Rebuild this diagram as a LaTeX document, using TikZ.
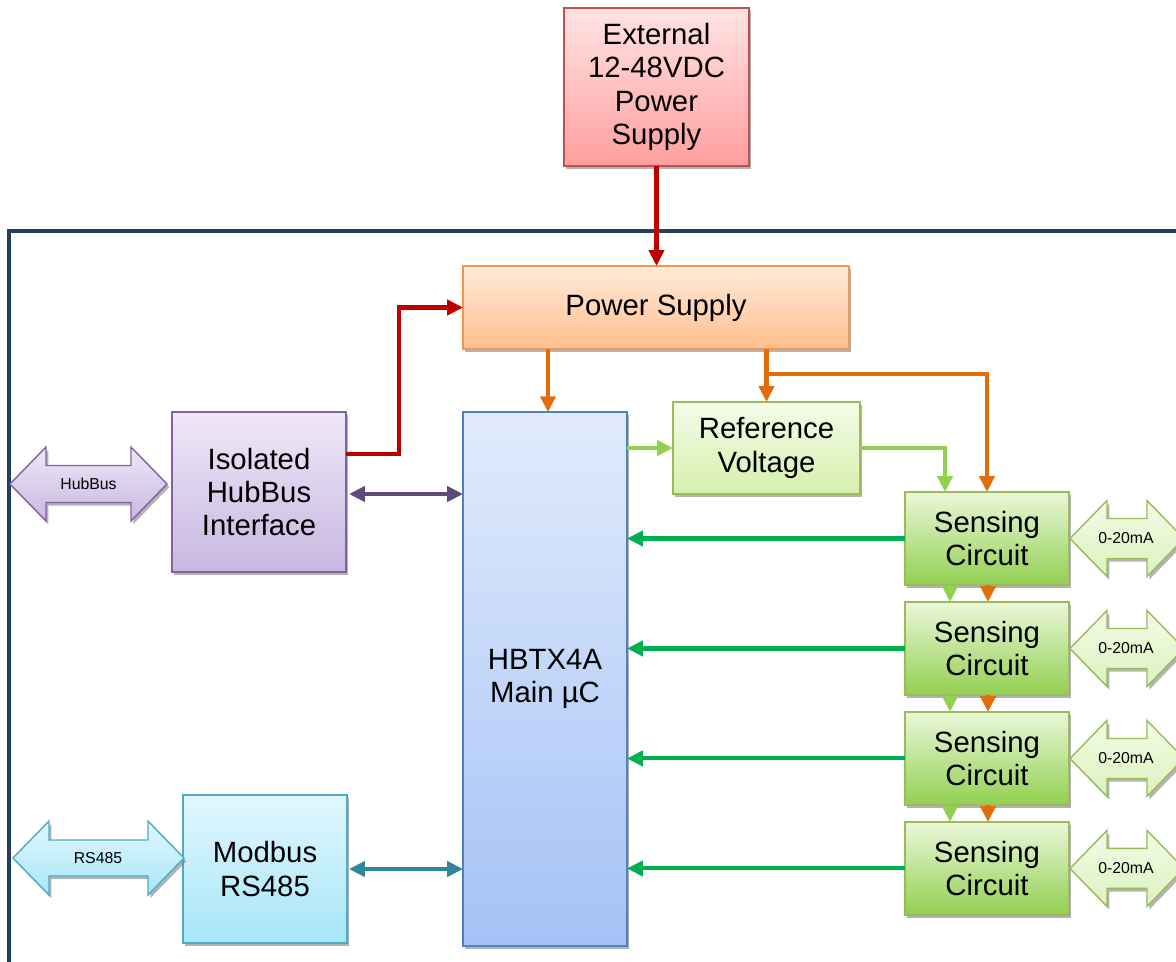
\documentclass[tikz,border=0pt]{standalone}
\usepackage{fontspec}
\setmainfont{Liberation Sans}
\usetikzlibrary{positioning,arrows.meta,calc,shadows}

\definecolor{framecol}{HTML}{243F60}
\definecolor{redline}{HTML}{C00000}
\definecolor{orangeline}{HTML}{E46C0A}
\definecolor{limeline}{HTML}{92D050}
\definecolor{greenline}{HTML}{00B050}
\definecolor{purpleline}{HTML}{5F497A}
\definecolor{tealline}{HTML}{31859C}
\definecolor{extdraw}{HTML}{C0504D}
\definecolor{exttop}{HTML}{FFE3E3}
\definecolor{extbot}{HTML}{FF9E9E}
\definecolor{psdraw}{HTML}{F79646}
\definecolor{pstop}{HTML}{FFEADB}
\definecolor{psbot}{HTML}{FFBF8C}
\definecolor{isodraw}{HTML}{8064A2}
\definecolor{isotop}{HTML}{EEE8F6}
\definecolor{isobot}{HTML}{C8B7E2}
\definecolor{mcudraw}{HTML}{4F81BD}
\definecolor{mcutop}{HTML}{E1EBFC}
\definecolor{mcubot}{HTML}{A4C2F6}
\definecolor{gdraw}{HTML}{9BBB59}
\definecolor{reftop}{HTML}{F4FBE8}
\definecolor{refbot}{HTML}{D6F0AE}
\definecolor{sctop}{HTML}{EAF7DA}
\definecolor{scmid}{HTML}{A9DB76}
\definecolor{scbot}{HTML}{92D050}
\definecolor{matop}{HTML}{F2FBE6}
\definecolor{mabot}{HTML}{DCF3BE}
\definecolor{mbdraw}{HTML}{4BACC6}
\definecolor{mbtop}{HTML}{E2F7FD}
\definecolor{mbbot}{HTML}{A6E6F8}

\begin{document}
\begin{tikzpicture}[x=0.02cm, y=-0.02cm, node distance=0.34cm,
    box/.style={draw, line width=0.8pt, inner sep=0pt, outer sep=0pt, align=center,
        font=\fontsize{16.7}{19}\selectfont,
        drop shadow={shadow xshift=1.3pt, shadow yshift=-1.8pt, opacity=0.6}},
    bus/.style={draw, line width=0.8pt,
        drop shadow={shadow xshift=1.3pt, shadow yshift=-1.8pt, opacity=0.6}},
    buslabel/.style={font=\fontsize{9}{11}\selectfont, inner sep=0pt},
    link/.style={line width=2.3pt, -{Triangle[length=9pt, width=8.5pt]}},
    twoway/.style={line width=2.3pt, {Triangle[length=9pt, width=8.5pt]}-{Triangle[length=9pt, width=8.5pt]}}]
    \clip (0,0) rectangle (1176,961);
    \draw[framecol, line width=2.3pt] (9,231) rectangle (1220,1000);

    \node (ext) [box, draw=extdraw, top color=exttop, bottom color=extbot,
        minimum width=3.7cm, minimum height=3.16cm] at (656.5,87) {External\\12-48VDC\\Power\\Supply};
    \node (ps) [box, draw=psdraw, top color=pstop, bottom color=psbot,
        minimum width=7.72cm, minimum height=1.66cm] at (656,307.5) {Power Supply};
    \node (iso) [box, draw=isodraw, top color=isotop, bottom color=isobot,
        minimum width=3.48cm, minimum height=3.2cm] at (259,492) {Isolated\\HubBus\\Interface};
    \node (mcu) [box, draw=mcudraw, top color=mcutop, bottom color=mcubot,
        minimum width=3.28cm, minimum height=10.68cm] at (545,679) {HBTX4A\\Main µC};
    \node (refv) [box, draw=gdraw, top color=reftop, bottom color=refbot,
        minimum width=3.74cm, minimum height=1.84cm] at (766.5,448) {Reference\\Voltage};
    \node (mb) [box, draw=mbdraw, top color=mbtop, bottom color=mbbot,
        minimum width=3.28cm, minimum height=2.96cm] at (265,869) {Modbus\\RS485};

    \tikzset{sense/.style={box, draw=gdraw, top color=sctop, middle color=scmid, bottom color=scbot,
        minimum width=3.28cm, minimum height=1.86cm}}
    \node (sc1) [sense] at (987,538.5) {Sensing\\Circuit};
    \node (sc2) [sense, below=of sc1] {Sensing\\Circuit};
    \node (sc3) [sense, below=of sc2] {Sensing\\Circuit};
    \node (sc4) [sense, below=of sc3] {Sensing\\Circuit};

    \draw[bus, draw=isodraw, top color=isotop, bottom color=isobot]
        (10,484) -- ++(36,-37) -- ++(0,18.5) -- ++(85,0) -- ++(0,-18.5) -- ++(36,37)
        -- ++(-36,37) -- ++(0,-18.5) -- ++(-85,0) -- ++(0,18.5) -- cycle;
    \node (hub) [buslabel] at (88.5,484) {HubBus};
    \draw[bus, draw=mbdraw, top color=mbtop, bottom color=mbbot]
        (13,858) -- ++(36,-37) -- ++(0,19) -- ++(99,0) -- ++(0,-19) -- ++(36,37)
        -- ++(-36,37) -- ++(0,-19) -- ++(-99,0) -- ++(0,19) -- cycle;
    \node (rs) [buslabel] at (98,858) {RS485};
    \foreach \i in {1,...,4} {
        \draw[bus, draw=gdraw, top color=matop, bottom color=mabot]
            ($(sc\i.east)+(1,0)$) -- ++(37,-38) -- ++(0,18) -- ++(40,0) -- ++(0,-18) -- ++(37,38)
            -- ++(-37,38) -- ++(0,-18) -- ++(-40,0) -- ++(0,18) -- cycle;
        \node (ma\i) [buslabel] at ($(sc\i.east)+(57,0)$) {0-20mA};
    }

    \draw[link, redline] (ext.south) -- (ext.south |- ps.north);
    \draw[link, redline] ($(iso.east)+(0,-38)$) -- ++(53,0) |- (ps.west);
    \draw[twoway, purpleline] ($(iso.east)+(3,2)$) -- ($(iso.east -| mcu.west)+(0,2)$);
    \draw[twoway, tealline] ($(mb.east)+(2,0)$) -- (mb.east -| mcu.west);
    \draw[link, orangeline] ($(mcu.north |- ps.south)+(3,0)$) -- ($(mcu.north)+(3,0)$);
    \draw[link, orangeline] (refv.north |- ps.south) -- (refv.north);
    \draw[link, orangeline] ($(refv.north |- ps.south)+(0,25)$) -| (sc1.north);
    \draw[link, limeline] (mcu.east |- refv.west) -- (refv.west);
    \draw[link, limeline] (refv.east) -| ($(sc1.north)+(-42,0)$);
    \foreach \a/\b in {sc1/sc2, sc2/sc3, sc3/sc4} {
        \draw[link, limeline] ($(\a.south)+(-37,0)$) -- ($(\b.north)+(-37,0)$);
        \draw[link, orangeline] ($(\a.south)+(1,0)$) -- ($(\b.north)+(1,0)$);
    }
    \foreach \i in {1,...,4}
        \draw[link, greenline] (sc\i.west) -- (sc\i.west -| mcu.east);
\end{tikzpicture}
\end{document}
